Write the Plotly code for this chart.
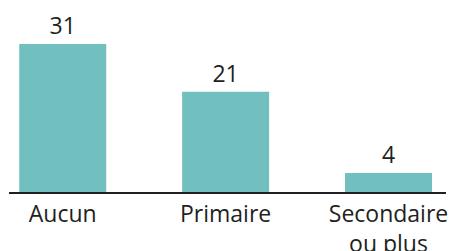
import plotly.graph_objects as go

categories = ["Aucun", "Primaire", "Secondaire<br>ou plus"]
values = [31, 21, 4]
labels = ["31", "21", "4"]

bar_color = "#72bfc0"
text_color = "#231f20"
font_family = "Open Sans, Noto Sans, sans-serif"

fig = go.Figure(
    go.Bar(
        x=categories,
        y=values,
        text=labels,
        textposition="outside",
        textfont=dict(size=23, color=text_color, family=font_family),
        marker=dict(color=bar_color, line=dict(width=0)),
        width=0.534,
        cliponaxis=False,
    )
)

fig.update_layout(
    width=450,
    height=251,
    margin=dict(l=9, r=4, t=0, b=59, autoexpand=False),
    paper_bgcolor="white",
    plot_bgcolor="white",
    showlegend=False,
    font=dict(family=font_family, size=23, color=text_color),
)
fig.update_xaxes(
    range=[-0.33, 2.353],
    showline=True,
    linecolor=text_color,
    linewidth=2,
    showgrid=False,
    ticks="",
    automargin=False,
    tickfont=dict(size=23, color=text_color, family=font_family),
    fixedrange=True,
)
fig.update_yaxes(
    range=[0, 40.25],
    visible=False,
    showgrid=False,
    zeroline=False,
    automargin=False,
    fixedrange=True,
)

fig.write_html(
    "out.html",
    config={"displayModeBar": False},
    post_script="document.body.style.margin='0';document.body.style.overflow='hidden';",
)
